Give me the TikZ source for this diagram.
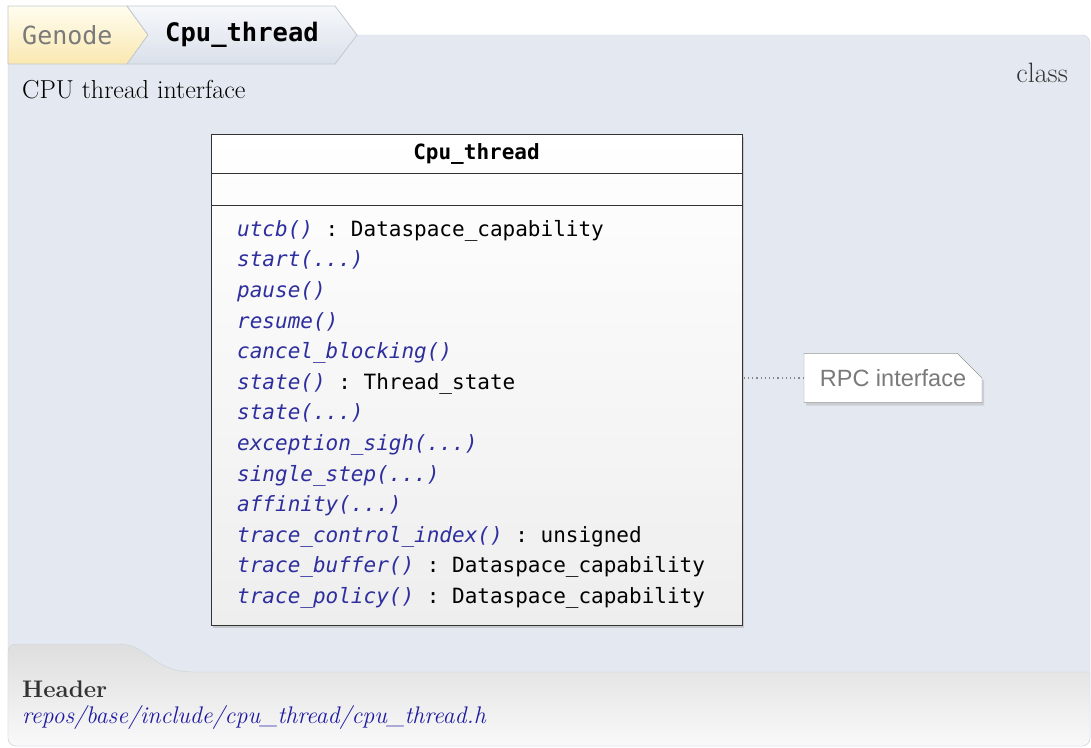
\documentclass[tikz,border=0pt]{standalone}
\usepackage{fontspec}
\setmonofont{DejaVu Sans Mono}
\newfontfamily\notefont{Liberation Sans}
\usetikzlibrary{positioning, shadows, shapes.misc}
\definecolor{panelbg}{HTML}{E4E9F1}
\definecolor{panelline}{HTML}{CDD2DA}
\definecolor{genodetop}{HTML}{FFFDF0}
\definecolor{genodebot}{HTML}{FAE8B0}
\definecolor{crumbtop}{HTML}{F6F8FB}
\definecolor{crumbbot}{HTML}{DAE0EA}
\definecolor{crumbline}{HTML}{C4C8CE}
\definecolor{boxline}{HTML}{333333}
\definecolor{boxbottom}{HTML}{EEEEEE}
\definecolor{opcolor}{HTML}{2E2E9E}
\definecolor{linkcolor}{HTML}{1E1AA0}
\definecolor{dimtext}{HTML}{7A7A7A}
\definecolor{darktext}{HTML}{333333}
\definecolor{foottop}{HTML}{DEDEDE}
\definecolor{footbot}{HTML}{F9F9F9}
\newcommand{\opname}[1]{\textcolor{opcolor}{\itshape #1}}

\begin{document}
\begin{tikzpicture}[x=1pt, y=-1pt,
		crumb/.style={draw=crumbline, line width=0.8pt},
		classbox/.style={draw=boxline, line width=1pt, minimum width=531pt, inner sep=0pt, outer sep=0pt},
		optext/.style={anchor=north west, align=left, inner sep=0pt, font=\fontsize{21}{30.6}\selectfont\ttfamily},
		rpcnote/.style={chamfered rectangle, chamfered rectangle corners=north east, chamfered rectangle xsep=16pt, chamfered rectangle ysep=16pt,
				draw=dimtext!80, fill=white, text=dimtext, minimum width=178pt, minimum height=49pt, inner sep=0pt,
				font=\notefont\fontsize{23.5}{26}\selectfont, drop shadow={opacity=0.25, shadow xshift=2pt, shadow yshift=-3pt}},
		serif/.style={inner sep=0pt, font=\fontsize{26}{30}\selectfont}
	]
	\useasboundingbox (0,0) rectangle (1091,747);
	% Panel
	\path[fill=panelbg, draw=panelline, rounded corners=8pt] (8,35) rectangle (1090,746);
	% Footer
	\path[top color=foottop, bottom color=footbot, draw=panelline, rounded corners=8pt]
		(8,746) -- (8,644) -- (110,644) [sharp corners] .. controls (150,644) and (150,672) .. (195,672)
		-- (1090,672) [rounded corners=8pt] -- (1090,746) -- cycle;
	% Breadcrumb
	\path[crumb, top color=genodetop, bottom color=genodebot] (8,6) -- (127,6) -- (148,35) -- (127,64) -- (8,64) -- cycle;
	\path[crumb, top color=crumbtop, bottom color=crumbbot] (127,6) -- (335,6) -- (357,35) -- (335,64) -- (127,64) -- (148,35) -- cycle;
	\node[anchor=west, inner sep=0pt, text=dimtext, font=\fontsize{25}{30}\selectfont\ttfamily] (genode) at (22,35) {Genode};
	\node[anchor=west, inner sep=0pt, font=\fontsize{25.5}{30}\selectfont\ttfamily\bfseries] (crumbname) at (165,35) {Cpu\_thread};
	% Texts
	\node[serif, anchor=base west] (brief) at (22,98) {CPU thread interface};
	\node[serif, anchor=base east, text=darktext, font=\fontsize{28}{30}\selectfont] (kind) at (1068,82) {class};
	\node[anchor=base west, inner sep=0pt, text=darktext, font=\fontsize{24}{30}\selectfont\bfseries] (header) at (22,697) {Header};
	\node[anchor=base west, inner sep=0pt, text=linkcolor, font=\fontsize{24}{30}\selectfont\itshape] (path) at (22,723) {repos/base/include/cpu\_thread/cpu\_thread.h};
	% Class box
	\node[classbox, anchor=north west, minimum height=491pt, top color=white, bottom color=boxbottom,
		drop shadow={opacity=0.3, shadow xshift=2pt, shadow yshift=-3pt}] (cls) at (211,134) {};
	\node[classbox, minimum height=39pt, below=0pt of cls.north, font=\fontsize{21}{25}\selectfont\ttfamily\bfseries] (title) {Cpu\_thread};
	\node[classbox, minimum height=32pt, below=0pt of title] (attrs) {};
	\node[classbox, minimum height=420pt, below=0pt of attrs] (ops) {};
	\node[optext] (oplist) at ([xshift=26pt, yshift=-15pt]ops.north west) {%
		\opname{utcb()} : Dataspace\_capability\\
		\opname{start(...)}\\
		\opname{pause()}\\
		\opname{resume()}\\
		\opname{cancel\_blocking()}\\
		\opname{state()} : Thread\_state\\
		\opname{state(...)}\\
		\opname{exception\_sigh(...)}\\
		\opname{single\_step(...)}\\
		\opname{affinity(...)}\\
		\opname{trace\_control\_index()} : unsigned\\
		\opname{trace\_buffer()} : Dataspace\_capability\\
		\opname{trace\_policy()} : Dataspace\_capability};
	% RPC note
	\node[rpcnote] (rpc) at (893,378) {RPC interface};
	\draw[dimtext!90, line width=1.2pt, dash pattern=on 1.2pt off 3pt] (rpc.west) -- (rpc.west -| ops.east);
\end{tikzpicture}
\end{document}
